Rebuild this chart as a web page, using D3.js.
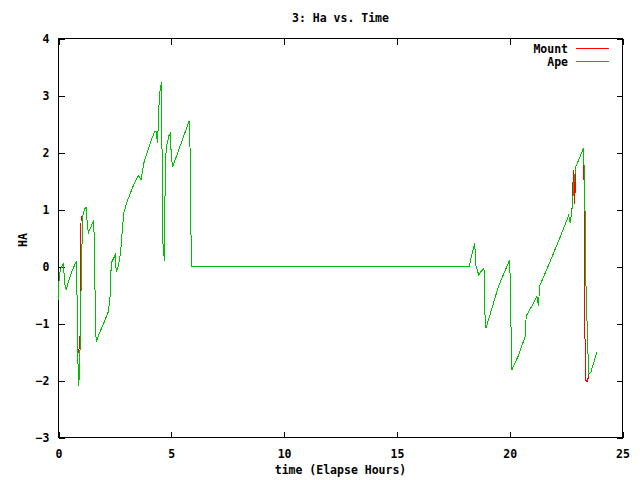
<!DOCTYPE html>
<html>
<head>
<meta charset="utf-8">
<script src="https://cdn.jsdelivr.net/npm/d3@7"></script>
<style>
  body { margin: 0; background: #fff; }
  text { font-family: "DejaVu Sans Mono", monospace; font-size: 11.5px; font-weight: bold; fill: #000; }
</style>
</head>
<body>
<svg></svg>
<script>
// elapsed hours, shared by both series
let times = [
  0.00, 0.02, 0.08, 0.15, 0.22, 0.27, 0.34, 0.45, 0.60, 0.80,
  0.82, 0.85, 0.90, 0.95, 1.00, 1.05, 1.08, 1.15, 1.22, 1.27,
  1.32, 1.45, 1.56, 1.60, 1.63, 1.67, 1.80, 2.00, 2.21, 2.28,
  2.34, 2.45, 2.51, 2.56, 2.65, 2.75, 2.80, 2.85, 2.89, 3.05,
  3.36, 3.54, 3.66, 3.78, 3.96, 4.10, 4.25, 4.32, 4.39, 4.45,
  4.50, 4.57, 4.60, 4.63, 4.70, 4.73, 4.78, 4.90, 4.96, 5.00,
  5.06, 5.80, 5.84, 5.87, 5.90, 18.20, 18.35, 18.45, 18.50, 18.55,
  18.63, 18.70, 18.86, 18.90, 18.95, 19.20, 19.50, 20.00, 20.03, 20.07,
  20.10, 20.40, 20.69, 20.73, 21.00, 21.20, 21.28, 21.32, 21.73, 22.20,
  22.54, 22.61, 22.68, 22.76, 22.80, 22.84, 22.88, 22.93, 23.27, 23.30,
  23.33, 23.36, 23.45, 23.50, 23.60, 23.86
]

let mount = [
  -0.58, -0.27, -0.05, 0.00, 0.06, -0.29, -0.41, -0.25, -0.08, 0.10,
  -0.46, -1.54, -1.45, -1.40, 0.87, 0.88, 0.90, 1.00, 1.05, 0.78,
  0.59, 0.70, 0.82, 0.20, -0.81, -1.33, -1.18, -1.00, -0.79, -0.57,
  0.06, 0.15, 0.20, -0.09, 0.00, 0.23, 0.50, 0.72, 0.94, 1.15,
  1.46, 1.60, 1.52, 1.81, 2.04, 2.20, 2.36, 2.38, 2.16, 2.80,
  3.09, 3.23, 1.29, 0.40, 0.09, 1.69, 2.10, 2.30, 2.34, 1.92,
  1.75, 2.56, 1.92, 0.64, 0.00, 0.00, 0.25, 0.41, 0.02, -0.05,
  -0.15, -0.10, -0.03, -0.82, -1.08, -0.75, -0.35, 0.12, -0.37, -1.34,
  -1.81, -1.55, -1.22, -0.87, -0.68, -0.52, -0.70, -0.35, 0.03, 0.48,
  0.82, 0.90, 0.77, 0.99, 1.45, 1.69, 1.10, 1.75, 2.07, 1.38,
  -0.99, -2.00, -2.02, -1.89, -1.85, -1.51
]

let ape = [
  -0.58, -0.27, -0.05, 0.00, 0.06, -0.29, -0.41, -0.25, -0.08, 0.10,
  -0.46, -1.54, -2.10, -1.55, -0.40, 0.55, 0.90, 1.00, 1.05, 0.78,
  0.59, 0.70, 0.82, 0.20, -0.81, -1.33, -1.18, -1.00, -0.79, -0.57,
  0.06, 0.15, 0.20, -0.09, 0.00, 0.23, 0.50, 0.72, 0.94, 1.15,
  1.46, 1.60, 1.52, 1.81, 2.04, 2.20, 2.36, 2.38, 2.16, 2.80,
  3.09, 3.23, 1.29, 0.40, 0.09, 1.69, 2.10, 2.30, 2.34, 1.92,
  1.75, 2.56, 1.92, 0.64, 0.00, 0.00, 0.25, 0.41, 0.02, -0.05,
  -0.15, -0.10, -0.03, -0.82, -1.08, -0.75, -0.35, 0.12, -0.37, -1.34,
  -1.81, -1.55, -1.22, -0.87, -0.68, -0.52, -0.70, -0.35, 0.03, 0.48,
  0.82, 0.90, 0.77, 0.99, 1.20, 1.45, 1.57, 1.75, 2.07, 1.70,
  1.38, -0.03, -1.28, -1.89, -1.85, -1.51
]

let seriesNames = ["Mount", "Ape"]
let seriesColors = ["#ff0000", "#00c000"]
let xTicks = [0, 5, 10, 15, 20, 25]
let yTicks = [-3, -2, -1, 0, 1, 2, 3, 4]

let width = 640
let height = 480
let plotLeft = 58.5
let plotRight = 622.5
let plotTop = 38.5
let plotBottom = 437.5
let tick = 6
let midX = (plotLeft + plotRight) / 2

let svg = d3.select('svg').attr("width", width).attr("height", height)

let xScale = d3.scaleLinear().domain([0, 25]).range([plotLeft, plotRight])
let yScale = d3.scaleLinear().domain([-3, 4]).range([plotBottom, plotTop])

// ticks on all four sides, pointing inward (gnuplot mirror style)
let axisBottom = d3.axisBottom(xScale).tickValues(xTicks).tickSize(-tick).tickPadding(10).tickFormat(d3.format("d"))
let axisTop = d3.axisTop(xScale).tickValues(xTicks).tickSize(-tick).tickFormat("")
let axisLeft = d3.axisLeft(yScale).tickValues(yTicks).tickSize(-tick).tickPadding(9).tickFormat(d3.format("d"))
let axisRight = d3.axisRight(yScale).tickValues(yTicks).tickSize(-tick).tickFormat("")

let styleAxis = g => {
    g.select(".domain").remove()
    g.selectAll("line").attr("stroke", "#000").attr("shape-rendering", "crispEdges")
    g.attr("font-family", null).attr("font-size", null)
}

svg.append("g").attr("transform", "translate(0," + plotBottom + ")").call(axisBottom).call(styleAxis)
    .selectAll("text").attr("dy", "0.9em")
svg.append("g").attr("transform", "translate(0," + plotTop + ")").call(axisTop).call(styleAxis)
svg.append("g").attr("transform", "translate(" + plotLeft + ",0)").call(axisLeft).call(styleAxis)
svg.append("g").attr("transform", "translate(" + plotRight + ",0)").call(axisRight).call(styleAxis)

svg.append("rect")
    .attr("x", plotLeft).attr("y", plotTop)
    .attr("width", plotRight - plotLeft).attr("height", plotBottom - plotTop)
    .attr("fill", "none").attr("stroke", "#000")
    .attr("shape-rendering", "crispEdges")

let line = d3.line()
    .x((d, i) => xScale(times[i]))
    .y(d => yScale(d))

let series = [mount, ape]
series.forEach((vals, k) => {
    svg.append("path")
        .datum(vals)
        .attr("d", line)
        .attr("fill", "none")
        .attr("stroke", seriesColors[k])
        .attr("stroke-width", 1)
        .attr("shape-rendering", "crispEdges")
})

// legend
seriesNames.forEach((name, k) => {
    let y = 48.5 + k * 13
    svg.append("text")
        .attr("x", 568).attr("y", y)
        .attr("dy", "0.35em")
        .attr("text-anchor", "end")
        .text(name)
    svg.append("line")
        .attr("x1", 576).attr("x2", 609)
        .attr("y1", y).attr("y2", y)
        .attr("stroke", seriesColors[k])
        .attr("shape-rendering", "crispEdges")
})

svg.append("text")
    .attr("x", midX).attr("y", 22)
    .attr("text-anchor", "middle")
    .text("3: Ha vs. Time")

svg.append("text")
    .attr("x", midX).attr("y", 474)
    .attr("text-anchor", "middle")
    .text("time (Elapse Hours)")

svg.append("text")
    .attr("transform", "translate(27,240) rotate(-90)")
    .attr("text-anchor", "middle")
    .text("HA")
</script>
</body>
</html>
